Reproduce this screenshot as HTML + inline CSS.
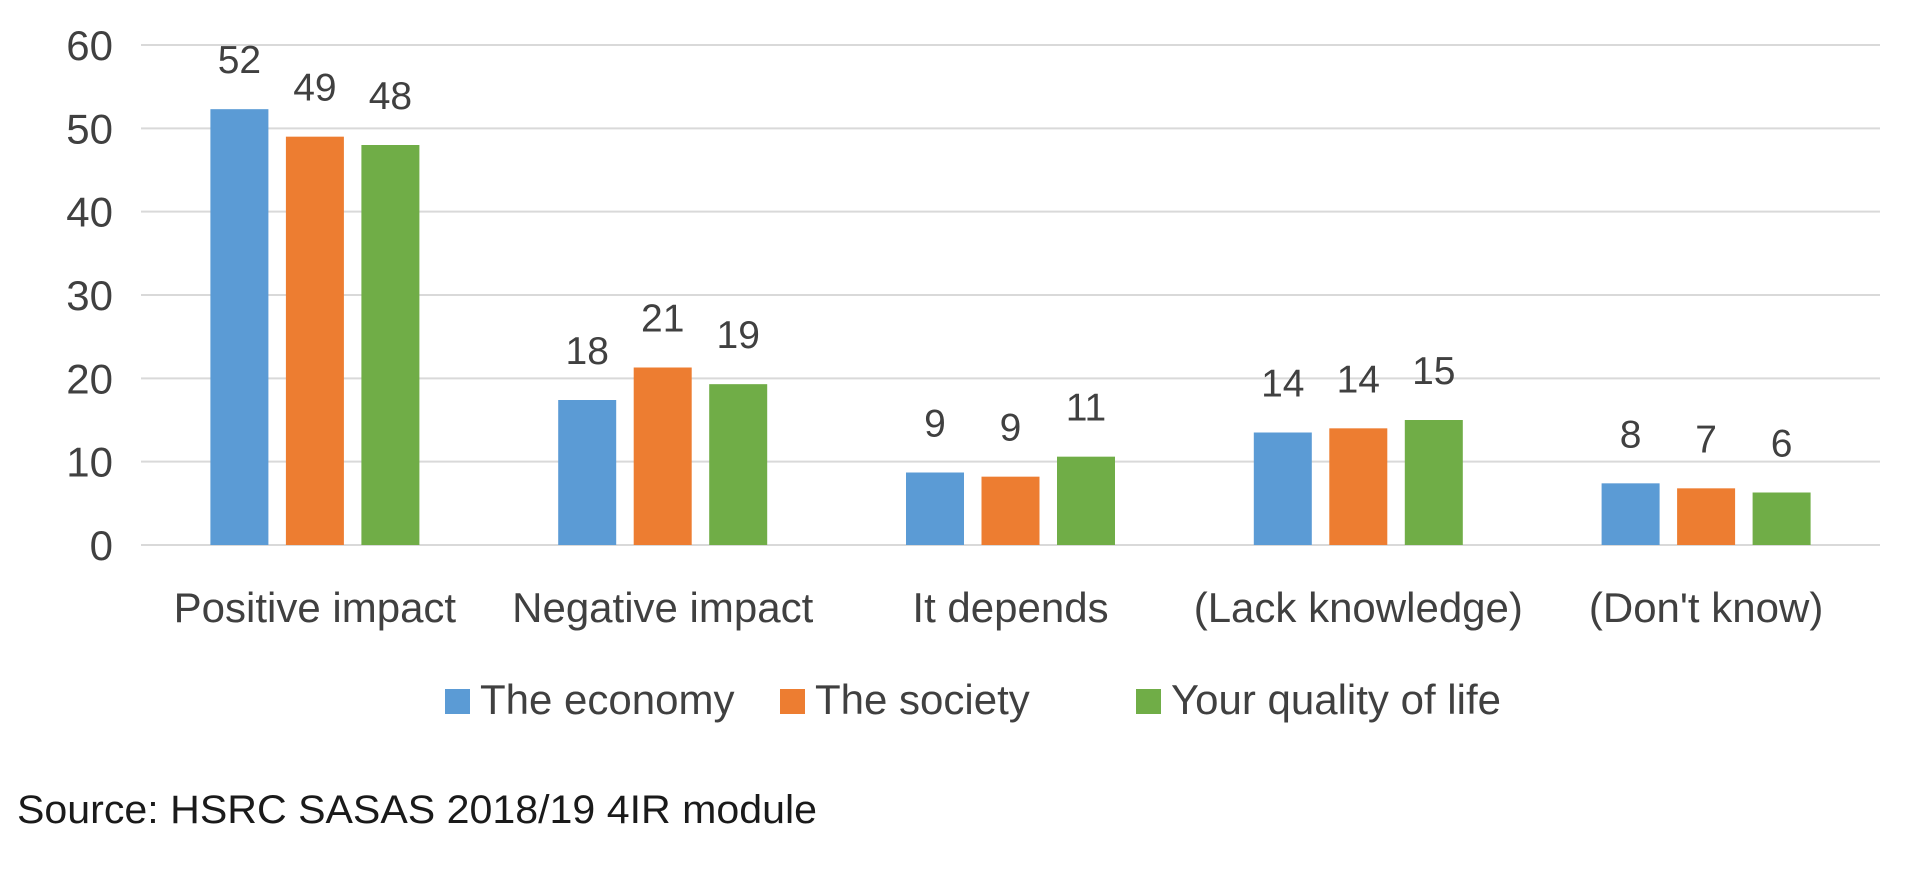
<!DOCTYPE html>
<html><head><meta charset="utf-8"><style>
html,body{margin:0;padding:0;background:#fff;}
svg{display:block;font-family:"Liberation Sans",sans-serif;}
</style></head><body>
<svg id="chart" width="1920" height="880" viewBox="0 0 1920 880" xmlns="http://www.w3.org/2000/svg"></svg>
<script>
const categories = ["Positive impact","Negative impact","It depends","(Lack knowledge)","(Don't know)"];
const seriesNames = ["The economy","The society","Your quality of life"];
const economy = [52.3, 17.4, 8.7, 13.5, 7.4];
const society = [49.0, 21.3, 8.2, 14.0, 6.8];
const quality = [48.0, 19.3, 10.6, 15.0, 6.3];
const economyLabels = ["52","18","9","14","8"];
const societyLabels = ["49","21","9","14","7"];
const qualityLabels = ["48","19","11","15","6"];
const yTicks = [0,10,20,30,40,50,60];

const svg = document.getElementById('chart');
const NS = 'http://www.w3.org/2000/svg';
const colors = ['#5b9bd5','#ed7d31','#70ad47'];
const plotL = 141, plotR = 1880, yTop = 45, yBot = 545, yMax = 60;
const y = v => yBot - (v / yMax) * (yBot - yTop);
const bandW = (plotR - plotL) / categories.length;
const xCenter = i => plotL + bandW * (i + 0.5);
const barW = 58, stride = 75.5;
function el(tag, attrs, text){
  const e = document.createElementNS(NS, tag);
  for (const k in attrs) e.setAttribute(k, attrs[k]);
  if (text !== undefined) e.textContent = text;
  svg.appendChild(e);
  return e;
}
yTicks.forEach(t => {
  const g = el('line', {x1: plotL, x2: plotR, y1: y(t), y2: y(t), stroke: '#d9d9d9', 'stroke-width': 2});
  
  
  const lb = el('text', {x: 113, y: y(t) + 15, 'text-anchor': 'end', 'font-size': 42, fill: '#404040'}, String(t));
  
  
});
const series = [economy, society, quality];
const labels = [economyLabels, societyLabels, qualityLabels];
categories.forEach((c, i) => {
  series.forEach((s, j) => {
    const cx = xCenter(i) + (j - 1) * stride;
    const r = el('rect', {x: cx - barW / 2, y: y(s[i]), width: barW, height: yBot - y(s[i]), fill: colors[j]});
    
    
    const t = el('text', {x: cx, y: y(s[i]) - 36, 'text-anchor': 'middle', 'font-size': 39, fill: '#404040'}, labels[j][i]);
    
    
  });
  const cl = el('text', {x: xCenter(i), y: 622, 'text-anchor': 'middle', 'font-size': 42, fill: '#404040'}, c);
  
  
});
const legX = [445, 780, 1136];
seriesNames.forEach((n, j) => {
  const sq = el('rect', {x: legX[j], y: 689, width: 25, height: 25, fill: colors[j]});
  
  
  const t = el('text', {x: legX[j] + 35, y: 714, 'font-size': 42, fill: '#404040'}, n);
  
  
});
const src = el('text', {x: 17, y: 823, 'font-size': 40, fill: '#1a1a1a', textLength: 800, lengthAdjust: 'spacingAndGlyphs'}, 'Source: HSRC SASAS 2018/19 4IR module');


</script>
</body></html>
